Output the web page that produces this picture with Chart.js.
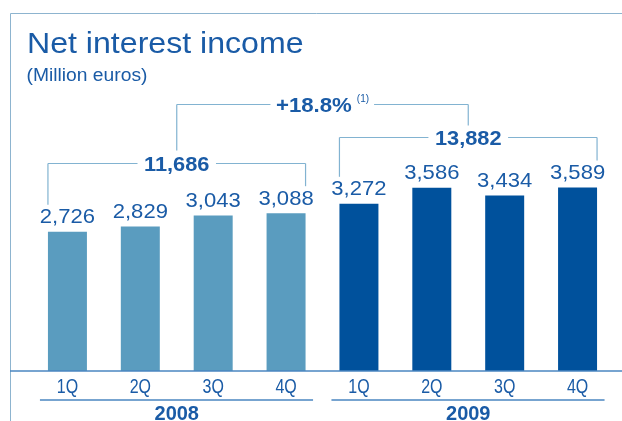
<!DOCTYPE html>
<html>
<head>
<meta charset="utf-8">
<script src="https://cdn.jsdelivr.net/npm/chart.js@4"></script>
<style>
  html, body { margin: 0; padding: 0; background: #fff; }
  canvas { display: block; }
</style>
</head>
<body>
<canvas id="nii-chart" width="622" height="421"></canvas>
<script>
// quarterly net interest income, million euros
var quarters = ['1Q', '2Q', '3Q', '4Q'];
var years = ['2008', '2009'];
var income2008 = [2726, 2829, 3043, 3088];
var income2009 = [3272, 3586, 3434, 3589];
var yearTotals = ['11,686', '13,882'];
var growth = '+18.8%';
var growthNote = '(1)';

var yearColors = ['#5a9cbf', '#00519c'];
var textBlue = '#1a5ba6';
var lineBlue = '#82b3d1';

var labels = [], values = [], colors = [];
[income2008, income2009].forEach(function (arr, g) {
    arr.forEach(function (v, i) {
        labels.push(quarters[i]);
        values.push(v);
        colors.push(yearColors[g]);
    });
});

// text drawn with a slight horizontal stretch
function stretchText(ctx, str, x, y, font, sx, align) {
    ctx.save();
    ctx.font = font;
    ctx.fillStyle = textBlue;
    ctx.textBaseline = 'alphabetic';
    ctx.textAlign = align || 'center';
    ctx.translate(x, y);
    ctx.scale(sx, 1);
    ctx.fillText(str, 0, 0);
    ctx.restore();
}

function seg(ctx, x1, y1, x2, y2) {
    ctx.beginPath();
    ctx.moveTo(x1, y1);
    ctx.lineTo(x2, y2);
    ctx.stroke();
}

var FONT = '"Liberation Sans", Arial, Helvetica, sans-serif';

var decorations = {
    id: 'decorations',
    afterDraw: function (chart) {
        var ctx = chart.ctx;
        var area = chart.chartArea;
        var bars = chart.getDatasetMeta(0).data;
        var W = chart.width, H = chart.height;

        // frame
        ctx.save();
        ctx.strokeStyle = '#8db4cf';
        ctx.lineWidth = 1;
        seg(ctx, 10.5, 13.5, W, 13.5);
        seg(ctx, 10.5, 13.5, 10.5, H);

        // baseline
        ctx.strokeStyle = '#4a86c0';
        ctx.lineWidth = 1.6;
        seg(ctx, 10, area.bottom, W, area.bottom);
        ctx.restore();

        // title
        stretchText(ctx, 'Net interest income', 27, 53.3, '30px ' + FONT, 1.07, 'left');
        stretchText(ctx, '(Million euros)', 26.5, 81, '18px ' + FONT, 1.07, 'left');

        // value and quarter labels
        bars.forEach(function (b, i) {
            stretchText(ctx, values[i].toLocaleString('en-US'), b.x, b.y - 8.5, '21px ' + FONT, 1.05);
            stretchText(ctx, labels[i], b.x, 392.5, '20px ' + FONT, 0.8);
        });

        var groupTops = [];
        var groupCenters = [];
        years.forEach(function (yr, g) {
            var first = bars[g * 4], last = bars[g * 4 + 3];
            var left = first.x - first.width / 2;
            var right = last.x + last.width / 2;
            var cx = (left + right) / 2;

            // year underline + label
            ctx.save();
            ctx.strokeStyle = '#4a86c0';
            ctx.lineWidth = 1.4;
            seg(ctx, left - 8, 400, right + 7.5, 400);
            ctx.restore();
            stretchText(ctx, yr, cx, 419.5, 'bold 20px ' + FONT, 1.0);

            // yearly total bracket
            var minY = Math.min.apply(null, bars.slice(g * 4, g * 4 + 4).map(function (b) { return b.y; }));
            var hy = Math.round(minY - 50.5) + 0.5;
            var font = 'bold 20px ' + FONT;
            ctx.save();
            ctx.font = font;
            var tw = ctx.measureText(yearTotals[g]).width * 1.09;
            ctx.strokeStyle = lineBlue;
            ctx.lineWidth = 1.2;
            seg(ctx, left, hy, cx - tw / 2 - 6.5, hy);
            seg(ctx, cx + tw / 2 + 6.5, hy, right, hy);
            seg(ctx, left, hy, left, first.y - 27);
            seg(ctx, right, hy, right, last.y - 27);
            ctx.restore();
            stretchText(ctx, yearTotals[g], cx, hy + 7.5, font, 1.09);

            groupTops.push(hy);
            groupCenters.push(cx);
        });

        // growth bracket joining the two totals
        var ty = Math.round(Math.min.apply(null, groupTops) - 34) + 0.5;
        var gx1 = groupCenters[0], gx2 = groupCenters[1];
        var gFont = 'bold 20px ' + FONT;
        ctx.save();
        ctx.font = gFont;
        var gw = ctx.measureText(growth).width * 1.11;
        ctx.font = '10px ' + FONT;
        var nw = ctx.measureText(growthNote).width;
        var total = gw + 5 + nw;
        var mid = (gx1 + gx2) / 2;
        var start = mid - total / 2;
        ctx.strokeStyle = lineBlue;
        ctx.lineWidth = 1.2;
        seg(ctx, gx1, ty, start - 5.5, ty);
        seg(ctx, start + total + 5, ty, gx2, ty);
        seg(ctx, gx1, ty, gx1, groupTops[0] - 13);
        seg(ctx, gx2, ty, gx2, groupTops[1] - 12);
        ctx.restore();
        stretchText(ctx, growth, start, ty + 7, gFont, 1.11, 'left');
        stretchText(ctx, growthNote, start + gw + 5, ty - 2.5, '10px ' + FONT, 1.0, 'left');
    }
};

var chart = new Chart(document.getElementById('nii-chart'), {
    type: 'bar',
    data: {
        labels: labels,
        datasets: [{
            data: values,
            backgroundColor: colors,
            borderWidth: 0,
            barPercentage: 0.535,
            categoryPercentage: 1.0
        }]
    },
    options: {
        responsive: false,
        animation: false,
        layout: {
            padding: { left: 31, right: 8, top: 115.5, bottom: 50 }
        },
        scales: {
            x: { display: false },
            y: { display: false, min: 0, max: 5000 }
        },
        plugins: {
            legend: { display: false },
            tooltip: { enabled: false }
        }
    },
    plugins: [decorations]
});
</script>
</body>
</html>
